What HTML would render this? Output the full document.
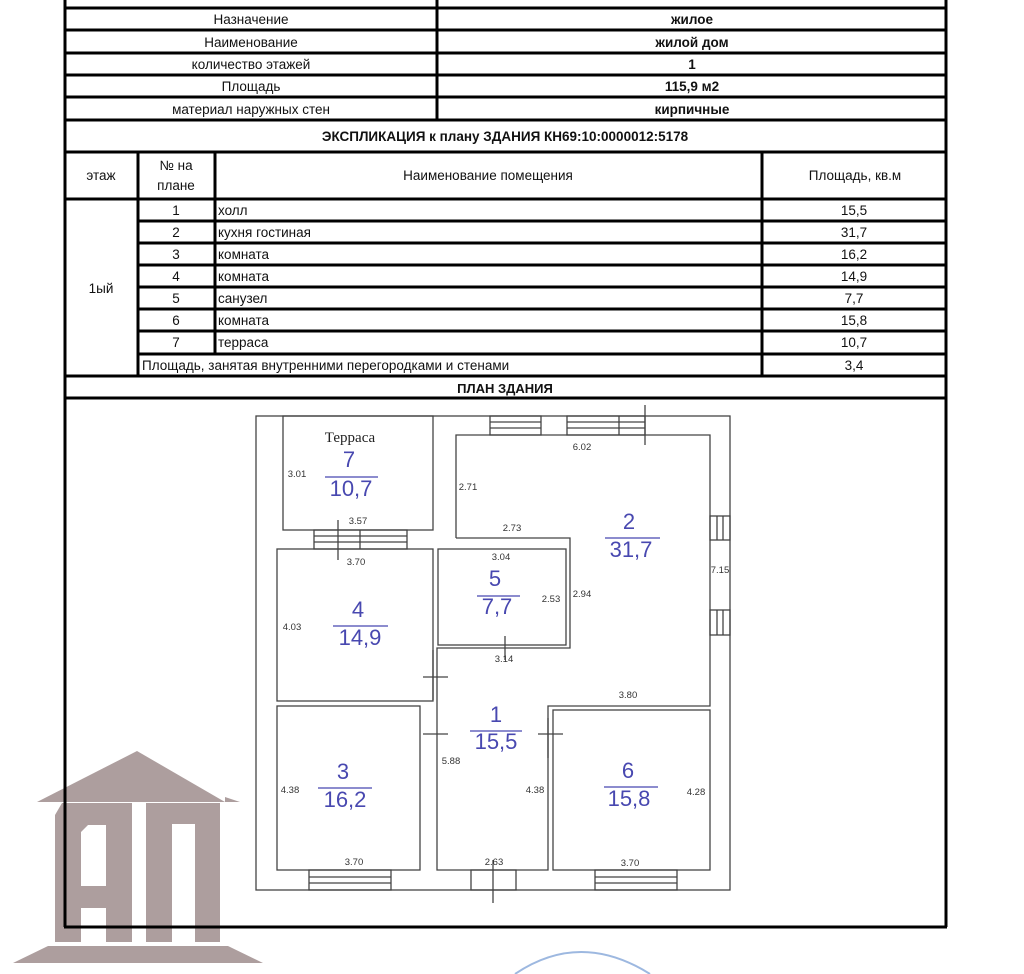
<!DOCTYPE html>
<html><head><meta charset="utf-8"><style>
html,body{margin:0;padding:0;background:#fff;width:1024px;height:974px;overflow:hidden}
svg text{font-family:"Liberation Sans","DejaVu Sans",sans-serif}
</style></head><body>
<svg width="1024" height="974" viewBox="0 0 1024 974" xmlns="http://www.w3.org/2000/svg">
<!-- logo -->
<g fill="#ad9e9e">
<polygon points="37,802 137,751 225,802"/>
<polygon points="225,797 240,802 225,802"/>
<path d="M62,803 H132 V942 H106 V908 H81 V942 H55 V815 Z M88,825 H106 V886 H81 V832 Z" fill-rule="evenodd"/>
<path d="M146,803 H220 V942 H195 V824 H172 V942 H146 Z"/>
<polygon points="13,963 48,946 228,946 263,963"/>
</g>
<path d="M515,974 Q580,930 650,974" fill="none" stroke="#9db8e0" stroke-width="2"/>

<!-- table lines -->
<g stroke="#000" stroke-width="3" fill="none">
<line x1="65" y1="0" x2="65" y2="927"/>
<line x1="946" y1="0" x2="946" y2="927"/>
<line x1="64" y1="927" x2="947" y2="927"/>
<line x1="437" y1="0" x2="437" y2="120"/>
<line x1="64" y1="8" x2="947" y2="8"/>
<line x1="64" y1="30" x2="947" y2="30"/>
<line x1="64" y1="53" x2="947" y2="53"/>
<line x1="64" y1="75" x2="947" y2="75"/>
<line x1="64" y1="97" x2="947" y2="97"/>
<line x1="64" y1="120" x2="947" y2="120"/>
<line x1="64" y1="152" x2="947" y2="152"/>
<line x1="64" y1="199" x2="947" y2="199"/>
<line x1="138" y1="152" x2="138" y2="376"/>
<line x1="215" y1="152" x2="215" y2="354"/>
<line x1="762" y1="152" x2="762" y2="376"/>
<line x1="138" y1="221" x2="947" y2="221"/>
<line x1="138" y1="243" x2="947" y2="243"/>
<line x1="138" y1="265" x2="947" y2="265"/>
<line x1="138" y1="287" x2="947" y2="287"/>
<line x1="138" y1="309" x2="947" y2="309"/>
<line x1="138" y1="331" x2="947" y2="331"/>
<line x1="138" y1="354" x2="947" y2="354"/>
<line x1="64" y1="376" x2="947" y2="376"/>
<line x1="64" y1="398" x2="947" y2="398"/>
</g>
<g font-size="13.5" fill="#111" text-anchor="middle">
<text x="251" y="24">Назначение</text>
<text x="251" y="47">Наименование</text>
<text x="251" y="69">количество этажей</text>
<text x="251" y="91">Площадь</text>
<text x="251" y="114">материал наружных стен</text>
<g font-weight="bold">
<text x="692" y="24">жилое</text>
<text x="692" y="47">жилой дом</text>
<text x="692" y="69">1</text>
<text x="692" y="91">115,9 м2</text>
<text x="692" y="114">кирпичные</text>
<text x="505" y="141">ЭКСПЛИКАЦИЯ к плану ЗДАНИЯ КН69:10:0000012:5178</text>
<text x="505" y="393" font-size="13">ПЛАН ЗДАНИЯ</text>
</g>
<text x="101" y="180">этаж</text>
<text x="176" y="170">№ на</text>
<text x="176" y="190">плане</text>
<text x="488" y="180">Наименование помещения</text>
<text x="855" y="180">Площадь, кв.м</text>
<text x="101" y="293">1ый</text>
<text x="176" y="215">1</text><text x="176" y="237">2</text><text x="176" y="259">3</text><text x="176" y="281">4</text><text x="176" y="303">5</text><text x="176" y="325">6</text><text x="176" y="347">7</text>
<text x="854" y="215">15,5</text><text x="854" y="237">31,7</text><text x="854" y="259">16,2</text><text x="854" y="281">14,9</text><text x="854" y="303">7,7</text><text x="854" y="325">15,8</text><text x="854" y="347">10,7</text><text x="854" y="370">3,4</text>
</g>
<g font-size="13.5" fill="#111">
<text x="218" y="215">холл</text><text x="218" y="237">кухня гостиная</text><text x="218" y="259">комната</text><text x="218" y="281">комната</text><text x="218" y="303">санузел</text><text x="218" y="325">комната</text><text x="218" y="347">терраса</text>
<text x="142" y="370">Площадь, занятая внутренними перегородками и стенами</text>
</g>

<!-- plan -->
<g stroke="#444" stroke-width="1.3" fill="none">
<rect x="256" y="416" width="474" height="474"/>
<rect x="283" y="416" width="150" height="114"/>
<polyline points="456,538 456,435 710,435 710,706 548,706 548,870 437,870 437,648 570,648 570,538 456,538"/>
<rect x="438" y="549" width="128" height="96"/>
<rect x="277" y="549" width="156" height="152"/>
<rect x="277" y="706" width="143" height="164"/>
<rect x="553" y="710" width="157" height="160"/>
<!-- windows top -->
<rect x="490" y="416" width="51" height="19"/><line x1="490" y1="422" x2="541" y2="422"/><line x1="490" y1="428" x2="541" y2="428"/>
<rect x="567" y="416" width="78" height="19"/><line x1="567" y1="422" x2="645" y2="422"/><line x1="567" y1="428" x2="645" y2="428"/><line x1="619" y1="416" x2="619" y2="435"/>
<line x1="645" y1="405" x2="645" y2="445"/>
<!-- terrace door -->
<rect x="314" y="530" width="93" height="19"/><line x1="314" y1="536" x2="407" y2="536"/><line x1="314" y1="542" x2="407" y2="542"/><line x1="360" y1="530" x2="360" y2="549"/>
<line x1="338" y1="520" x2="338" y2="560"/>
<!-- right windows -->
<rect x="710" y="516" width="20" height="24"/><line x1="717" y1="516" x2="717" y2="540"/><line x1="723" y1="516" x2="723" y2="540"/>
<rect x="710" y="610" width="20" height="25"/><line x1="717" y1="610" x2="717" y2="635"/><line x1="723" y1="610" x2="723" y2="635"/>
<!-- bottom windows -->
<rect x="309" y="870" width="82" height="20"/><line x1="309" y1="877" x2="391" y2="877"/><line x1="309" y1="883" x2="391" y2="883"/>
<rect x="595" y="870" width="82" height="20"/><line x1="595" y1="877" x2="677" y2="877"/><line x1="595" y1="883" x2="677" y2="883"/>
<rect x="471" y="870" width="45" height="20"/>
<line x1="493" y1="860" x2="493" y2="903"/>
<!-- doors/crosses -->
<line x1="505" y1="636" x2="505" y2="660"/>
<line x1="423" y1="677" x2="448" y2="677"/>
<line x1="423" y1="734" x2="448" y2="734"/>
<line x1="538" y1="734" x2="563" y2="734"/>
<line x1="433" y1="650" x2="433" y2="700"/>
<line x1="548" y1="718" x2="548" y2="758"/>
</g>
<text x="350" y="442" font-family="Liberation Serif,serif" font-size="15" text-anchor="middle" fill="#222" style="font-family:'Liberation Serif',serif">Терраса</text>
<g font-size="9.5" fill="#333" text-anchor="middle">
<text x="297" y="477">3.01</text><text x="358" y="524">3.57</text><text x="356" y="565">3.70</text>
<text x="468" y="490">2.71</text><text x="582" y="450">6.02</text><text x="512" y="531">2.73</text>
<text x="501" y="560">3.04</text><text x="551" y="602">2.53</text><text x="582" y="597">2.94</text>
<text x="720" y="573">7.15</text><text x="292" y="630">4.03</text><text x="504" y="662">3.14</text>
<text x="628" y="698">3.80</text><text x="451" y="764">5.88</text><text x="290" y="793">4.38</text>
<text x="535" y="793">4.38</text><text x="696" y="795">4.28</text>
<text x="354" y="865">3.70</text><text x="494" y="865">2.63</text><text x="630" y="866">3.70</text>
</g>
<g font-size="22" fill="#4848b0" text-anchor="middle" stroke="#4848b0" stroke-width="1.2">
<text x="349" y="467" stroke="none">7</text><line x1="325" y1="477" x2="378" y2="477"/><text x="351" y="496" stroke="none">10,7</text>
<text x="629" y="529" stroke="none">2</text><line x1="605" y1="538" x2="660" y2="538"/><text x="631" y="557" stroke="none">31,7</text>
<text x="495" y="586" stroke="none">5</text><line x1="477" y1="596" x2="520" y2="596"/><text x="497" y="614" stroke="none">7,7</text>
<text x="358" y="617" stroke="none">4</text><line x1="333" y1="626" x2="388" y2="626"/><text x="360" y="645" stroke="none">14,9</text>
<text x="496" y="722" stroke="none">1</text><line x1="470" y1="731" x2="522" y2="731"/><text x="496" y="749" stroke="none">15,5</text>
<text x="343" y="779" stroke="none">3</text><line x1="318" y1="788" x2="372" y2="788"/><text x="345" y="807" stroke="none">16,2</text>
<text x="628" y="778" stroke="none">6</text><line x1="604" y1="787" x2="658" y2="787"/><text x="629" y="806" stroke="none">15,8</text>
</g>
</svg>
</body></html>
